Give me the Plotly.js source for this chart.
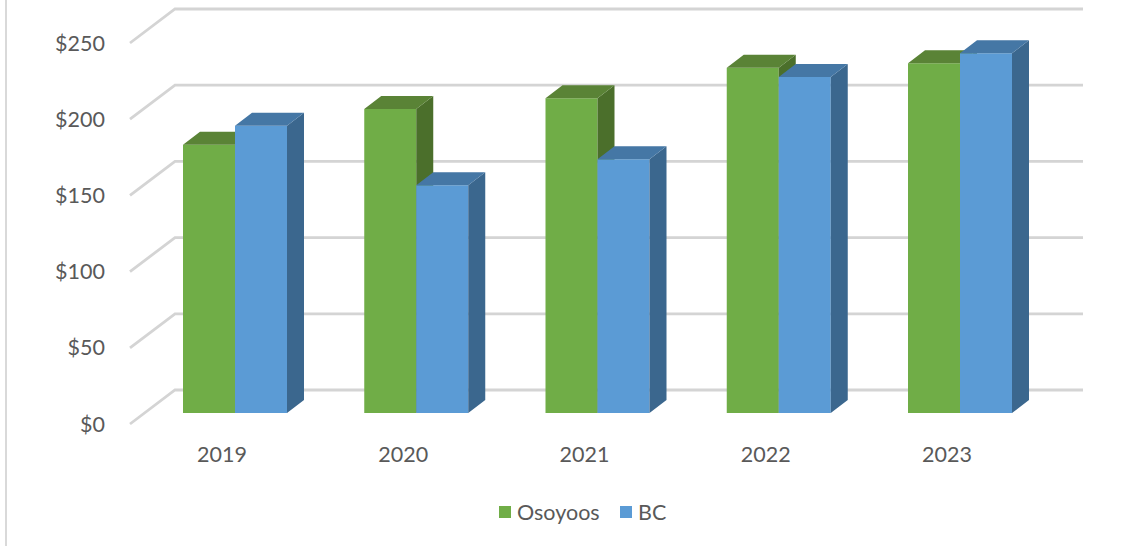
<!DOCTYPE html>
<html>
<head>
<meta charset="utf-8">
<script src="https://cdn.plot.ly/plotly-3.0.1.min.js"></script>
<style>html,body{margin:0;padding:0;background:#fff;overflow:hidden}#chart{width:1137px;height:546px}</style>
</head>
<body>
<div id="chart"></div>
<script>
var years = ['2019','2020','2021','2022','2023'];
var osoyoos = [176, 199.5, 206.5, 226.5, 229.5];
var bc = [188.5, 149.5, 166.5, 220.5, 236];
var tickValues = [0, 50, 100, 150, 200, 250];
var tickLabels = ['$0','$50','$100','$150','$200','$250'];

// page geometry (pixels) used only to set axis ranges and the oblique depth
var W = 1137, H = 546;
var catStep = 181.25, catZeroPx = 222;
var pxPerUnit = 1.524, wallZeroPx = 424, barZeroPx = 413;
var barWidthPx = 52, barShiftPx = 13, barDepthX = 17, barDepthY = 13;
var wallFrontPx = 130, wallBackPx = 175, wallRightPx = 1083, wallDepthY = 34;

function xu(px){ return (px - catZeroPx) / catStep; }
var idx = years.map(function(_, i){ return i; });
var bw = barWidthPx / catStep, shift = barShiftPx / catStep;
var dx = barDepthX / catStep, dy = barDepthY / pxPerUnit;

var traces = [];
// side wall and back wall gridlines
tickValues.forEach(function(v){
  traces.push({type:'scatter', mode:'lines', showlegend:false, hoverinfo:'skip',
    x:[xu(wallFrontPx), xu(wallBackPx), xu(wallRightPx)],
    y:[v, v + wallDepthY / pxPerUnit, v + wallDepthY / pxPerUnit],
    xaxis:'x', yaxis:'y', line:{color:'#d4d4d4', width:2.8}});
});

function addSeries(name, values, yaxis, left, front, top, side){
  traces.push({type:'bar', name:name, x:idx, y:values, base:0, width:bw,
    offset:left, xaxis:'x', yaxis:yaxis, marker:{color:front, line:{width:0}}});
  var tx = [], ty = [], sx = [], sy = [];
  idx.forEach(function(i){
    var l = i + left, r = l + bw, v = values[i];
    tx.push(l, r, r + dx, l + dx, l, null);
    ty.push(v, v, v + dy, v + dy, v, null);
    sx.push(r, r + dx, r + dx, r, r, null);
    sy.push(0, dy, v + dy, v, 0, null);
  });
  traces.push({type:'scatter', mode:'lines', x:sx, y:sy, fill:'toself', fillcolor:side,
    line:{width:0, color:side}, showlegend:false, hoverinfo:'skip', xaxis:'x', yaxis:yaxis});
  traces.push({type:'scatter', mode:'lines', x:tx, y:ty, fill:'toself', fillcolor:top,
    line:{width:0, color:top}, showlegend:false, hoverinfo:'skip', xaxis:'x', yaxis:yaxis});
}
addSeries('Osoyoos', osoyoos, 'y2', shift - bw, '#70ad47', '#5a8336', '#4b6f2b');
addSeries('BC', bc, 'y3', shift, '#5b9bd5', '#4577a5', '#3b678e');

var textFont = {family:'Lato, "Open Sans", sans-serif', size:21.5, color:'#595959'};
var barRange = [(barZeroPx - H) / pxPerUnit, barZeroPx / pxPerUnit];
var hiddenY = {overlaying:'y', range:barRange, visible:false, fixedrange:true};

var layout = {
  width:W, height:H,
  margin:{l:0, r:0, t:0, b:0, pad:0},
  paper_bgcolor:'#ffffff', plot_bgcolor:'rgba(0,0,0,0)',
  barmode:'overlay',
  font:textFont,
  xaxis:{range:[xu(0), xu(W)], domain:[0,1], anchor:'free', position:(H - 439) / H,
    tickmode:'array', tickvals:idx, ticktext:years, showgrid:false, zeroline:false,
    showline:false, ticks:'', tickfont:textFont, fixedrange:true},
  yaxis:{range:[(wallZeroPx - H) / pxPerUnit, wallZeroPx / pxPerUnit], domain:[0,1],
    anchor:'free', position:105 / W,
    tickmode:'array', tickvals:tickValues, ticktext:tickLabels, showgrid:false,
    zeroline:false, showline:false, ticks:'', tickfont:textFont, fixedrange:true},
  yaxis2:hiddenY,
  yaxis3:Object.assign({}, hiddenY),
  legend:{orientation:'h', x:477 / W, xanchor:'left', y:(H - 512) / H, yanchor:'middle',
    entrywidth:76, entrywidthmode:'pixels',
    font:textFont, bgcolor:'rgba(0,0,0,0)', itemclick:false, itemdoubleclick:false},
  shapes:[{type:'line', xref:'paper', yref:'paper', x0:6 / W, x1:6 / W, y0:0, y1:1,
    line:{color:'#d9d9d9', width:2}}],
  showlegend:true
};
Plotly.newPlot('chart', traces, layout, {displayModeBar:false, staticPlot:true}).then(function(gd){
  // the reference keeps its swatches close to the legend text
  gd.querySelectorAll('.legend .legendsymbols').forEach(function(g){
    g.setAttribute('transform', 'translate(8,0)');
  });
});
</script>
</body>
</html>
